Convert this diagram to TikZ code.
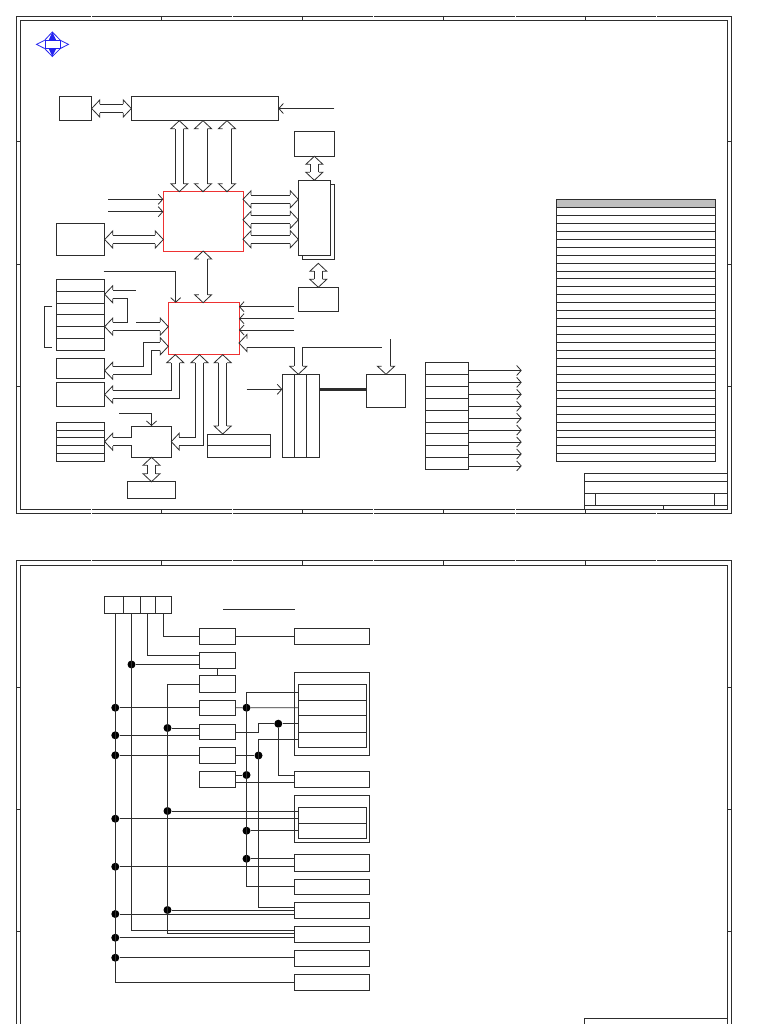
\documentclass[tikz,border=0pt]{standalone}
\usepackage{xcolor}
\usepackage{tikz}
\usetikzlibrary{arrows.meta, calc}
\definecolor{boxred}{RGB}{238,50,50}
\definecolor{iconblue}{RGB}{35,35,240}
\definecolor{linegray}{RGB}{45,45,45}
\pgfdeclarearrow{
  name=Bus,
  parameters={\the\pgfarrowlength,\the\pgfarrowwidth},
  setup code={
    \pgfarrowssettipend{0pt}
    \pgfarrowssetlineend{-\pgfarrowlength}
    \pgfarrowssetvisualbackend{-\pgfarrowlength}
    \pgfarrowssavethe\pgfarrowlength
    \pgfarrowssavethe\pgfarrowwidth
  },
  drawing code={
    \pgfsetlinewidth{0.8pt}
    \pgfsetmiterjoin
    \pgfpathmoveto{\pgfpoint{-\pgfarrowlength}{4.4pt}}
    \pgfpathlineto{\pgfpoint{-\pgfarrowlength}{0.5\pgfarrowwidth}}
    \pgfpathlineto{\pgfpoint{0pt}{0pt}}
    \pgfpathlineto{\pgfpoint{-\pgfarrowlength}{-0.5\pgfarrowwidth}}
    \pgfpathlineto{\pgfpoint{-\pgfarrowlength}{-4.4pt}}
    \pgfusepathqstroke
  },
  defaults={length=8pt,width=17pt}
}
\begin{document}
\begin{tikzpicture}[
    x=1pt, y=-1pt,
    wh/.style 2 args={minimum width=#1pt, minimum height=#2pt},
    box/.style={draw=linegray, line width=0.8pt, fill=white, inner sep=0pt, outer sep=0pt},
    redbox/.style={box, draw=boxred},
    wire/.style={draw=linegray, line width=0.8pt},
    arr/.style={wire, -{Straight Barb[length=4.5pt,width=10pt]}},
    bus/.style={draw=linegray, line width=0.8pt, double=white, double distance=7.4pt, {Bus}-{Bus}},
    busout/.style={draw=linegray, line width=0.8pt, double=white, double distance=7.4pt, -{Bus}},
    buspatch/.style={white, line width=7.4pt},
    dot/.style={circle, fill=black, inner sep=0pt, minimum size=8pt},
    tick/.style={line width=1pt}
]
\useasboundingbox (0,0) rectangle (768,1024);
\node[box, wh={714.5}{497.3}] (frameouter) at (373.75,264.65) {};
\node[box, wh={706.5}{489}] (frameinner) at (373.75,264.5) {};
\node[box, wh={714.5}{539.5}] (pageouter) at (373.75,830.25) {};
\node[box, wh={706.5}{535}] (pageinner) at (373.75,832.5) {};
\foreach \x in {161,302,443,585} {
  \draw[tick, linegray] (\x,16) -- (\x,20);
  \draw[tick, linegray] (\x,509) -- (\x,513.3);
  \draw[tick, linegray] (\x,560.5) -- (\x,565);
}
\foreach \x in {91,232,373,515,656} {
  \draw[tick, white] (\x,15.5) -- (\x,20);
  \draw[tick, white] (\x,509) -- (\x,514);
  \draw[tick, white] (\x,560) -- (\x,565);
}
\foreach \y in {142,264,386,687,809,931} {
  \draw[tick, linegray] (16.5,\y) -- (20.5,\y);
  \draw[tick, linegray] (727,\y) -- (731,\y);
}

\node[draw=iconblue, line width=0.8pt, inner sep=0pt, wh={15}{7.4}] (icon) at (52.5,44.4) {};
\draw[iconblue, line width=0.8pt] (icon.north west) -- (52.3,32) -- (icon.north east);
\draw[iconblue, line width=0.8pt] (icon.south west) -- (52.3,56.5) -- (icon.south east);
\draw[iconblue, line width=0.8pt] (icon.north west) -- (36.5,44.4) -- (icon.south west);
\draw[iconblue, line width=0.8pt] (icon.north east) -- (68.5,44.4) -- (icon.south east);
\fill[iconblue] (48.5,40.7) -- (52.3,32) -- (56.5,40.7) -- cycle;
\fill[iconblue] (48.5,48.1) -- (52.3,56.5) -- (56.5,48.1) -- cycle;

\node[box, wh={32}{24.4}] (video) at (75.7,108.5) {};
\node[box, wh={147}{24.4}] (cpu) at (204.8,108.5) {};
\node[box, wh={39.3}{24.6}] (dimmtop) at (314.35,144) {};
\node[box, wh={32}{75.3}] (memrear) at (318,221.65) {};
\node[box, wh={31.7}{75}] (mem) at (314.15,217.8) {};
\node[redbox, wh={79.7}{59.3}] (north) at (203.15,221.35) {};
\node[box, wh={48.7}{31.6}] (agp) at (80.35,239.5) {};
\node[box, wh={40}{23.7}] (dimmlow) at (318.3,299.15) {};
\node[redbox, wh={70.7}{52}] (south) at (203.65,328.7) {};
\foreach \i in {1,...,6}
  \node[box, wh={48.7}{11.83}] (io\i) at (80.35,{279.3+11.83*(\i-0.5)}) {};
\node[box, wh={48.7}{20}] (lan) at (80.35,368.3) {};
\node[box, wh={48.7}{24.4}] (ide) at (80.35,394.5) {};
\foreach \i in {1,...,5}
  \node[box, wh={48.7}{7.94}] (sio\i) at (80.35,{422+7.94*(\i-0.5)}) {};
\node[box, wh={39.6}{31.3}] (super) at (151.5,441.65) {};
\node[box, wh={47.6}{16.3}] (bios) at (151.5,489.85) {};
\node[box, wh={63}{11.65}] (pcia) at (238.8,439.85) {};
\node[box, wh={63}{11.65}] (pcib) at (238.8,451.5) {};
\node[box, wh={12.2}{83.4}] (slota) at (288.4,416) {};
\node[box, wh={12.2}{83.4}] (slotb) at (300.6,416) {};
\node[box, wh={12.2}{83.4}] (slotc) at (312.9,416) {};
\node[box, wh={39.4}{32.7}] (pccard) at (386,390.65) {};
\foreach \i in {1,...,9}
  \node[box, wh={43}{11.93}] (gpio\i) at (447.2,{362.3+11.93*(\i-0.5)}) {};
\node[box, fill=gray!50, wh={159}{7.6}] (tabhead) at (635.5,203.5) {};
\foreach \i in {1,...,32}
  \node[box, wh={159}{7.95}] (tabrow\i) at (635.5,{207.3+7.95*(\i-0.5)}) {};
\node[box, wh={142.7}{8.4}] (titlea) at (655.65,477.5) {};
\node[box, wh={142.7}{12}] (titleb) at (655.65,487.7) {};
\node[box, wh={11}{12}] (titlec) at (589.8,499.7) {};
\node[box, wh={119.4}{12}] (titled) at (655,499.7) {};
\node[box, wh={12.3}{12}] (titlee) at (720.85,499.7) {};
\node[box, wh={79}{3.3}] (titlef) at (623.8,507.35) {};
\node[box, wh={63.7}{3.3}] (titleg) at (695.15,507.35) {};

\coordinate (cpuin) at (334.3,108.5);
\coordinate (northina) at (108,199.3);
\coordinate (northinb) at (108,211.7);
\coordinate (southin) at (103.7,271.3);
\coordinate (superin) at (119,413.7);
\coordinate (slotin) at (246.7,389.3);
\coordinate (bracetop) at (52.3,306.3);
\coordinate (bracelow) at (52.3,347.3);
\coordinate (iojoin) at (131.8,327);
\coordinate (slotjoin) at (298.3,343);
\draw[arr] (cpuin) -- (cpu.east);
\draw[arr] (northina) -- (north.west |- northina);
\draw[arr] (northinb) -- (north.west |- northinb);
\draw[arr] (southin) -| (south.north -| 175.7,0);
\draw[arr] (superin) -| (super.north);
\draw[arr] (slotin) -- (slota.west |- slotin);
\draw[wire] (bracetop) -- ++(-7.6,0) |- (bracelow);
\foreach \y [count=\i] in {306.7,318.7,330} {
  \coordinate (southeast\i) at (294,\y);
  \draw[arr] (southeast\i) -- (south.east |- southeast\i);
}
\foreach \i in {1,...,9}
  \draw[arr] ($(gpio\i.east)+(0,2.2)$) -- ++(53,0);

\draw[bus] (video.east) -- (cpu.west);
\foreach \x in {179.3,203,227}
  \draw[bus] (cpu.south -| \x,0) -- (north.north -| \x,0);
\draw[bus] (dimmtop.south) -- (dimmtop.south |- mem.north);
\draw[bus] (dimmlow.north) -- (dimmlow.north |- 0,263.3);
\draw[bus] (north.south) -- (north.south |- south.north);
\draw[bus] (agp.east) -- (north.west |- agp.east);
\foreach \y in {199.3,219.8,239.3}
  \draw[bus] (north.east |- 0,\y) -- (mem.west |- 0,\y);
\draw[busout] (iojoin) -- (iojoin |- 0,294.3) -- (io2.east |- 0,294.3);
\draw[bus] (io4.south east) -- (south.west |- io4.south east);
\draw[buspatch] (iojoin) -- ++(0,-7);
\draw[bus] (lan.east |- 0,370.7) -| (147.3,346.3) -- (south.west |- 0,346.3);
\draw[bus] (ide.east) -| (south.south -| 175.3,0);
\draw[bus] (super.east) -| (south.south -| 199.5,0);
\draw[bus] (south.south -| 222.7,0) -- (pcia.north -| 222.7,0);
\draw[busout] (super.west) -- (sio3.east |- super.west);
\draw[bus] (super.south) -- (bios.north);
\draw[busout] (slotjoin) -- (slotjoin |- slotb.north);
\draw[bus] (south.east |- slotjoin) -| (pccard.north);
\draw[buspatch] (slotjoin) -- ++(0,7);
\draw[linegray, line width=2.6pt] (slotc.east |- slotin) -- (pccard.west |- slotin);

\node[box, wh={19.4}{16.6}] (conna) at (114,605) {};
\node[box, wh={16.3}{16.6}] (connb) at (131.85,605) {};
\node[box, wh={15.3}{16.6}] (connc) at (147.65,605) {};
\node[box, wh={16}{16.6}] (connd) at (163.3,605) {};
\node[box, wh={35.7}{16}] (vrega) at (217.15,636.3) {};
\node[box, wh={35.7}{16.4}] (vregb) at (217.15,660.5) {};
\node[box, wh={35.7}{16.6}] (vregc) at (217.15,684) {};
\node[box, wh={35.7}{15.3}] (vregd) at (217.15,707.65) {};
\node[box, wh={35.7}{15.4}] (vrege) at (217.15,732) {};
\node[box, wh={35.7}{16}] (vregf) at (217.15,755.7) {};
\node[box, wh={35.7}{15.3}] (vregg) at (217.15,779.35) {};
\node[box, wh={75}{16}] (loada) at (331.8,636.3) {};
\node[box, wh={75}{83}] (groupa) at (331.8,714.2) {};
\node[box, wh={68}{16}] (groupaa) at (332.3,692) {};
\node[box, wh={68}{15.3}] (groupab) at (332.3,707.65) {};
\node[box, wh={68}{17}] (groupac) at (332.3,723.8) {};
\node[box, wh={68}{15}] (groupad) at (332.3,739.8) {};
\node[box, wh={75}{15.3}] (loadb) at (331.8,779.35) {};
\node[box, wh={75}{47.7}] (groupb) at (331.8,818.85) {};
\node[box, wh={68}{16.4}] (groupba) at (332.3,815.5) {};
\node[box, wh={68}{15}] (groupbb) at (332.3,831.2) {};
\node[box, wh={75}{16.3}] (loadc) at (331.8,862.85) {};
\node[box, wh={75}{15.3}] (loadd) at (331.8,886.65) {};
\node[box, wh={75}{16}] (loade) at (331.8,910.3) {};
\node[box, wh={75}{15.3}] (loadf) at (331.8,934.35) {};
\node[box, wh={75}{15.3}] (loadg) at (331.8,958.35) {};
\node[box, wh={75}{16}] (loadh) at (331.8,982.3) {};
\node[box, wh={142.7}{8}] (titlepage) at (655.65,1022) {};

\foreach \name/\y in {da/707.7,db/735.3,dc/755.3,dd/818.7,de/866.7,df/914,dg/937.7,dh/957.7}
  \node[dot] (\name) at (115.3,\y) {};
\node[dot] (di) at (131.5,664.5) {};
\foreach \name/\y in {dj/728,dk/811,dl/910}
  \node[dot] (\name) at (167.5,\y) {};
\foreach \name/\y in {dm/707.7,dn/775,dp/830.7,dq/858.7}
  \node[dot] (\name) at (246.5,\y) {};
\node[dot] (dr) at (258.5,755.5) {};
\node[dot] (ds) at (278.3,723.7) {};

\coordinate (notea) at (223,609);
\coordinate (noteb) at (295,609);
\draw[wire] (notea) -- (noteb);
\draw[wire] (da |- conna.south) |- (loadh.west);
\draw[wire] (di |- connb.south) |- (loadf.west |- 0,930.7);
\draw[wire] (connc.south) |- (vregb.west |- 0,655.7);
\draw[wire] (connd.south) |- (vrega.west);
\draw[wire] (vrega.east) -- (loada.west);
\draw[wire] (di) -- (di -| vregb.west);
\draw[wire] (vregb.south) -- (vregc.north);
\draw[wire] (vregc.west) -- (dj |- vregc.west) |- (loadf.west |- 0,933.3);
\draw[wire] (da) -- (da -| vregd.west);
\draw[wire] (db) -- (db -| vrege.west);
\draw[wire] (dj) -- (dj -| vrege.west);
\draw[wire] (dc) -- (dc -| vregf.west);
\draw[wire] (dd) -- (dd -| groupba.west);
\draw[wire] (dk) -- (dk -| groupba.west);
\draw[wire] (de) -- (de -| loadc.west);
\draw[wire] (df) -- (df -| loade.west);
\draw[wire] (dl) -- (dl -| loade.west);
\draw[wire] (dg) -- (dg -| loadf.west);
\draw[wire] (dh) -- (dh -| loadg.west);
\draw[wire] (groupaa.west) -- (dm |- groupaa.west) |- (loadd.west);
\draw[wire] (vregd.east) -- (dm) -- (dm -| groupab.west);
\draw[wire] (vregg.east |- dn) -- (dn);
\draw[wire] (vregg.east |- 0,782.7) -- (loadb.west |- 0,782.7);
\draw[wire] (dp) -- (dp -| groupbb.west);
\draw[wire] (dq) -- (dq -| loadc.west);
\draw[wire] (groupad.west) -- (dr |- groupad.west) |- (loade.west |- 0,907);
\draw[wire] (dr) -- (dr -| vregf.east);
\draw[wire] (vrege.east) -- (dr |- vrege.east) |- (ds) -- (ds -| groupac.west);
\draw[wire] (ds) |- (loadb.west |- 0,775);
\end{tikzpicture}
\end{document}
